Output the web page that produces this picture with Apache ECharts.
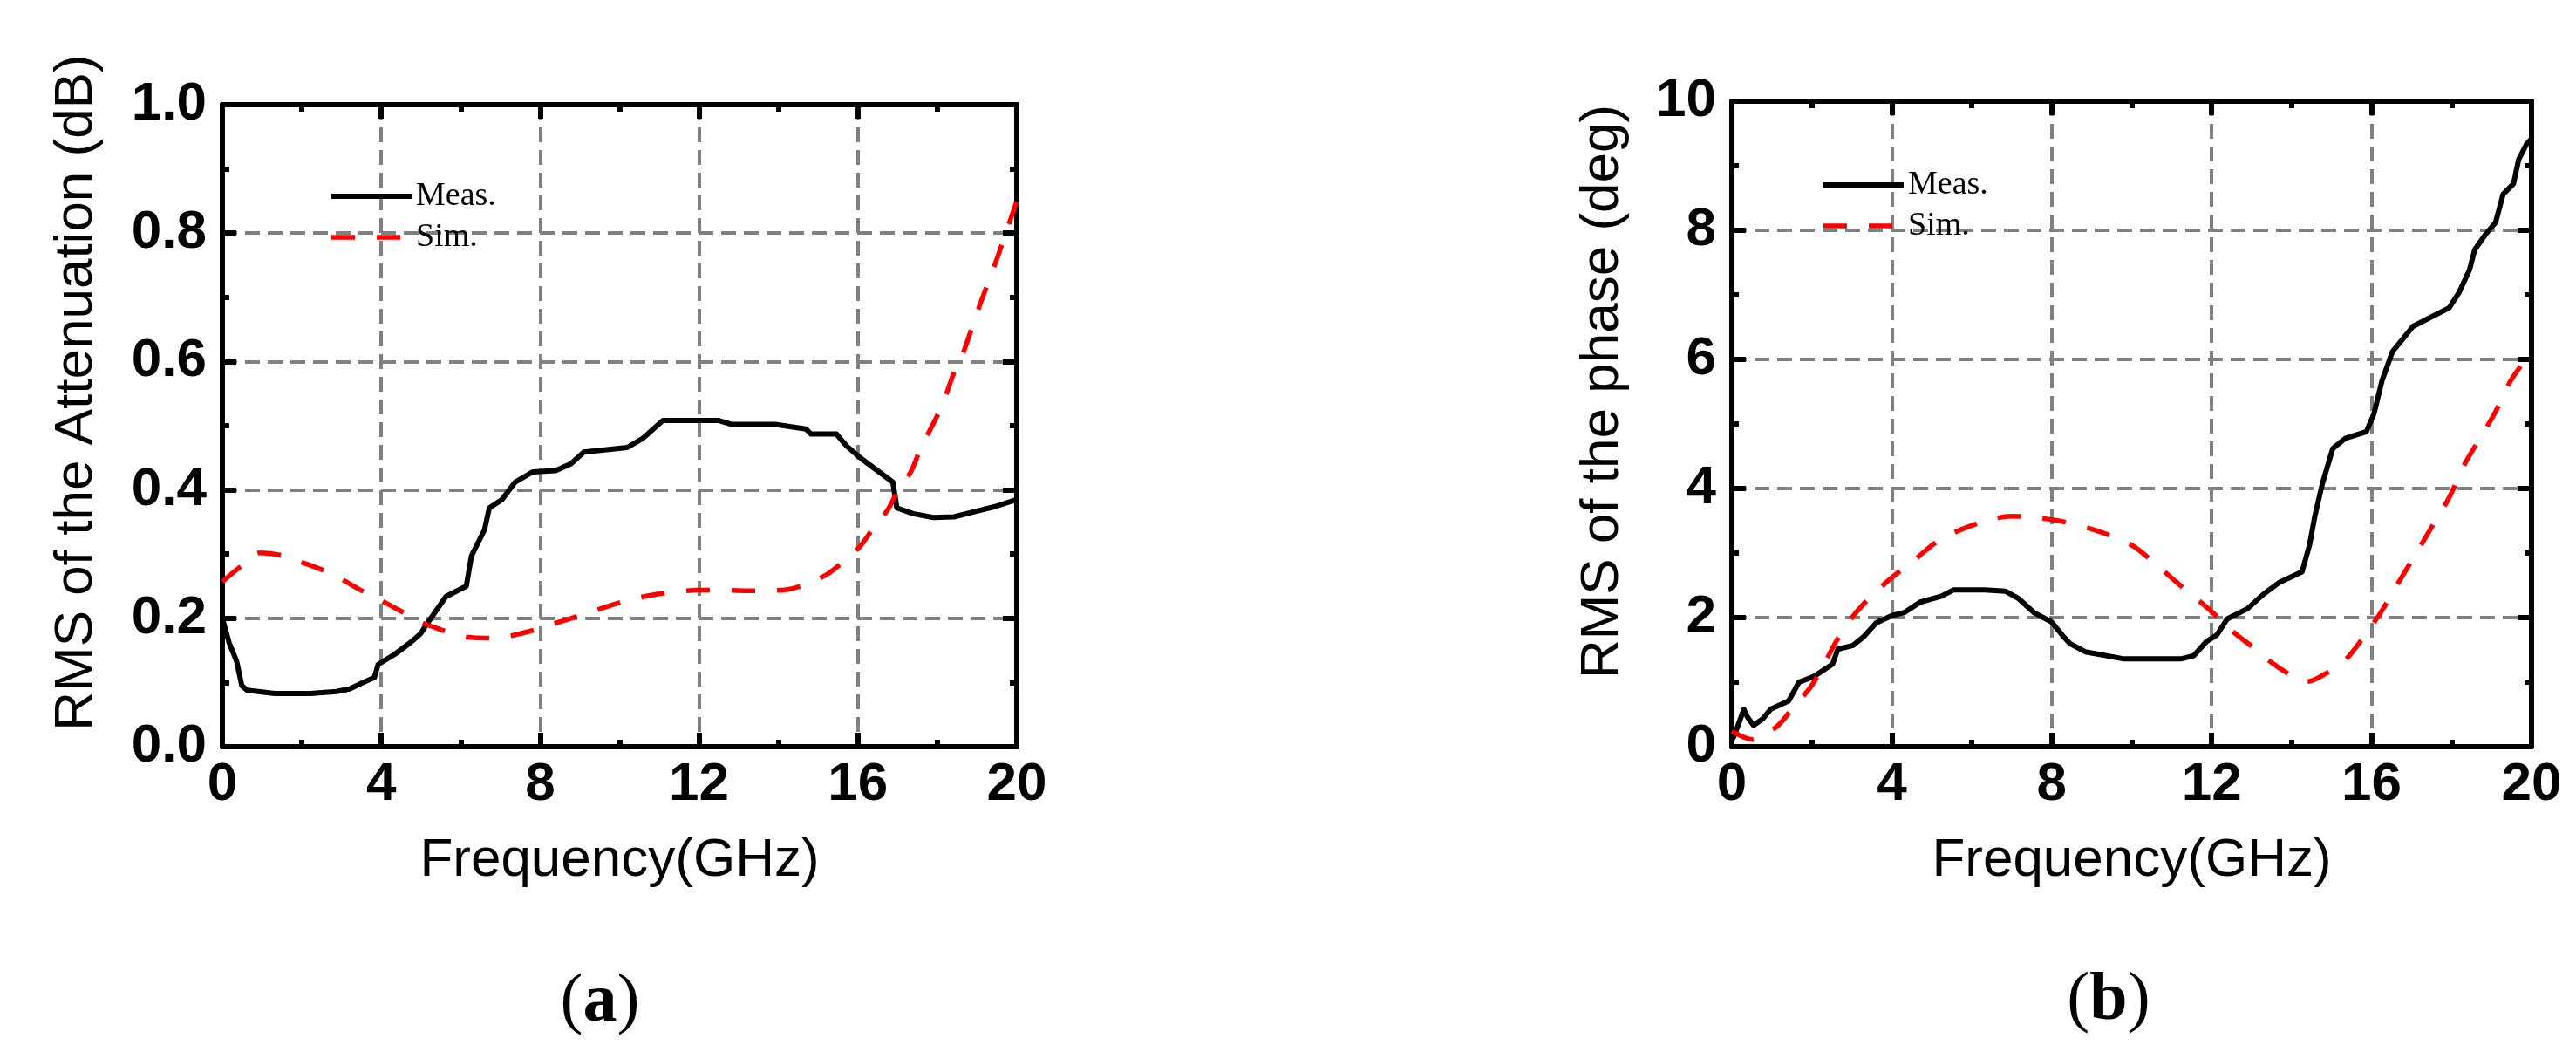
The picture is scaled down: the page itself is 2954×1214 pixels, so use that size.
<!DOCTYPE html>
<html>
<head>
<meta charset="utf-8">
<script src="https://cdn.jsdelivr.net/npm/echarts@6/dist/echarts.min.js"></script>
<style>
  html, body { margin: 0; padding: 0; background: #fff; }
  #chart { width: 2954px; height: 1214px; }
</style>
</head>
<body>
<div id="chart"></div>
<script>
// (a) RMS of the attenuation
const freqMeasA = [0, 0.17, 0.36, 0.49, 0.62, 1.32, 2.22, 2.87, 3.2, 3.51, 3.83, 3.92, 4.34, 4.73, 4.99, 5.18, 5.63, 6.14, 6.27, 6.6, 6.72, 7.04, 7.37, 7.81, 8.39, 8.78, 9.1, 10.19, 10.58, 11.09, 12.5, 12.83, 13.92, 14.69, 14.82, 15.46, 15.72, 16.1, 16.49, 16.88, 16.98, 17.39, 17.9, 18.42, 18.93, 19.45, 20]
const measA = [0.2, 0.162, 0.133, 0.095, 0.088, 0.083, 0.083, 0.086, 0.09, 0.099, 0.108, 0.128, 0.144, 0.162, 0.176, 0.194, 0.234, 0.25, 0.297, 0.338, 0.372, 0.385, 0.412, 0.428, 0.43, 0.441, 0.459, 0.466, 0.48, 0.508, 0.508, 0.502, 0.502, 0.495, 0.487, 0.487, 0.468, 0.448, 0.43, 0.412, 0.372, 0.363, 0.357, 0.358, 0.366, 0.374, 0.385]
const freqSimA = [0, 0.49, 0.94, 1.58, 1.97, 2.61, 3.0, 3.51, 3.96, 4.47, 4.99, 5.57, 6.02, 6.66, 7.11, 7.75, 8.2, 8.78, 9.23, 9.87, 10.32, 10.9, 11.35, 12.0, 12.57, 13.15, 13.6, 14.24, 14.69, 15.21, 15.59, 16.04, 16.36, 16.75, 17.01, 17.33, 17.55, 17.78, 18.03, 18.23, 18.42, 18.6, 19.08, 19.5, 20]
const simA = [0.257, 0.282, 0.302, 0.297, 0.288, 0.273, 0.261, 0.243, 0.229, 0.212, 0.194, 0.181, 0.172, 0.169, 0.171, 0.18, 0.189, 0.2, 0.209, 0.222, 0.23, 0.237, 0.241, 0.244, 0.244, 0.243, 0.243, 0.245, 0.253, 0.268, 0.286, 0.311, 0.338, 0.369, 0.399, 0.428, 0.46, 0.489, 0.52, 0.55, 0.583, 0.605, 0.69, 0.76, 0.85]

// (b) RMS of the phase
const freqMeasB = [0, 0.06, 0.19, 0.3, 0.39, 0.54, 0.77, 0.97, 1.42, 1.68, 2.06, 2.52, 2.65, 3.03, 3.29, 3.61, 4.0, 4.32, 4.71, 5.23, 5.55, 6.32, 6.84, 7.16, 7.55, 8.0, 8.26, 8.45, 8.84, 9.81, 11.23, 11.55, 11.87, 12.13, 12.39, 12.9, 13.29, 13.68, 14.26, 14.45, 14.58, 14.77, 15.03, 15.35, 15.87, 16.06, 16.26, 16.52, 16.77, 17.03, 17.94, 18.19, 18.45, 18.58, 18.84, 19.1, 19.29, 19.55, 19.68, 19.87, 20]
const measB = [0.1, 0.17, 0.39, 0.58, 0.46, 0.33, 0.43, 0.58, 0.71, 1.0, 1.09, 1.28, 1.51, 1.57, 1.7, 1.92, 2.03, 2.08, 2.24, 2.33, 2.43, 2.43, 2.41, 2.3, 2.08, 1.93, 1.73, 1.6, 1.47, 1.36, 1.36, 1.41, 1.63, 1.73, 1.98, 2.14, 2.36, 2.54, 2.71, 3.13, 3.57, 4.08, 4.62, 4.78, 4.88, 5.16, 5.67, 6.12, 6.31, 6.51, 6.8, 7.04, 7.39, 7.7, 7.93, 8.12, 8.56, 8.72, 9.1, 9.33, 9.42]
const freqSimB = [0, 0.52, 0.77, 1.16, 1.55, 1.94, 2.26, 2.58, 3.03, 3.48, 4.0, 4.52, 5.16, 5.68, 6.32, 6.97, 7.61, 8.26, 8.9, 9.55, 10.06, 10.58, 11.1, 11.61, 12.13, 12.52, 13.03, 13.55, 14.06, 14.39, 14.84, 15.35, 15.87, 16.26, 16.65, 17.03, 17.55, 17.94, 18.32, 18.77, 19.1, 19.48, 19.85, 20]
const simB = [0.24, 0.11, 0.17, 0.33, 0.62, 0.9, 1.22, 1.6, 2.02, 2.33, 2.62, 2.87, 3.19, 3.35, 3.49, 3.57, 3.55, 3.49, 3.39, 3.25, 3.1, 2.84, 2.56, 2.3, 2.02, 1.79, 1.54, 1.28, 1.08, 1.01, 1.13, 1.35, 1.76, 2.11, 2.52, 2.91, 3.45, 3.86, 4.37, 4.84, 5.19, 5.67, 5.99, 6.05]

const freqTicks = { min: 0, max: 20, interval: 4 }
const attTicks = { min: 0, max: 1, interval: 0.2 }
const phaseTicks = { min: 0, max: 10, interval: 2 }

const sansFont = '"Liberation Sans", Arial, sans-serif'
const serifFont = '"Liberation Serif", "Times New Roman", serif'

const pairs = (xs, ys) => xs.map((x, i) => [x, ys[i]])

const tickStyle = { color: '#000', width: 6 }

function makeXAxis (gridIndex, mirror) {
  return {
    type: 'value',
    gridIndex: gridIndex,
    position: mirror ? 'top' : 'bottom',
    min: freqTicks.min,
    max: freqTicks.max,
    interval: freqTicks.interval,
    axisLine: { onZero: false, lineStyle: { color: '#000', width: 6 } },
    axisTick: { inside: true, length: 16, lineStyle: tickStyle },
    minorTick: { show: true, splitNumber: 2, length: 8, lineStyle: tickStyle },
    axisLabel: {
      show: !mirror,
      margin: 13,
      fontSize: 62,
      fontWeight: 'bold',
      color: '#000',
      fontFamily: sansFont
    },
    splitLine: {
      show: !mirror,
      lineStyle: { color: '#808080', width: 4, type: [17, 9] }
    },
    name: mirror ? '' : 'Frequency(GHz)',
    nameLocation: 'middle',
    nameGap: 100,
    nameTextStyle: { fontSize: 62, color: '#000', fontFamily: sansFont }
  }
}

function makeYAxis (gridIndex, ticks, mirror, digits) {
  return {
    type: 'value',
    gridIndex: gridIndex,
    position: mirror ? 'right' : 'left',
    min: ticks.min,
    max: ticks.max,
    interval: ticks.interval,
    axisLine: { onZero: false, lineStyle: { color: '#000', width: 6 } },
    axisTick: { inside: true, length: 16, lineStyle: tickStyle },
    minorTick: { show: true, splitNumber: 2, length: 8, lineStyle: tickStyle },
    axisLabel: {
      show: !mirror,
      margin: 18,
      fontSize: 62,
      fontWeight: 'bold',
      color: '#000',
      fontFamily: sansFont,
      formatter: v => v.toFixed(digits)
    },
    splitLine: {
      show: !mirror,
      lineStyle: { color: '#808080', width: 4, type: [17, 9] }
    }
  }
}

function measSeries (name, xIdx, yIdx, data) {
  return {
    name: name,
    type: 'line',
    xAxisIndex: xIdx,
    yAxisIndex: yIdx,
    data: data,
    symbol: 'none',
    itemStyle: { color: '#000' },
    lineStyle: { color: '#000', width: 6, join: 'round' },
    z: 3
  }
}

function simSeries (name, xIdx, yIdx, data) {
  return {
    name: name,
    type: 'line',
    xAxisIndex: xIdx,
    yAxisIndex: yIdx,
    data: data,
    symbol: 'none',
    smooth: 0.3,
    itemStyle: { color: '#ff0000' },
    lineStyle: { color: '#ff0000', width: 5.5, type: [27, 25] },
    z: 4
  }
}

function makeLegend (left, top) {
  return {
    data: [
      { name: 'Meas.', itemStyle: { opacity: 0 }, lineStyle: { width: 6, color: '#000', type: 'solid' } },
      { name: 'Sim.', itemStyle: { opacity: 0 }, lineStyle: { width: 5.5, color: '#ff0000', type: [27, 25] } }
    ],
    orient: 'vertical',
    left: left,
    top: top,
    itemWidth: 92,
    itemHeight: 38,
    itemGap: 9,
    selectedMode: false,
    itemStyle: { opacity: 0 },
    textStyle: { fontFamily: serifFont, fontSize: 38, color: '#000' }
  }
}

const chart = echarts.init(document.getElementById('chart'))
chart.setOption({
  backgroundColor: '#fff',
  animation: false,
  grid: [
    { left: 255, top: 120, width: 911, height: 736 },
    { left: 1986, top: 116, width: 917, height: 740 }
  ],
  xAxis: [
    makeXAxis(0, false),
    makeXAxis(0, true),
    makeXAxis(1, false),
    makeXAxis(1, true)
  ],
  yAxis: [
    makeYAxis(0, attTicks, false, 1),
    makeYAxis(0, attTicks, true, 1),
    makeYAxis(1, phaseTicks, false, 0),
    makeYAxis(1, phaseTicks, true, 0)
  ],
  legend: [
    makeLegend(372, 201),
    makeLegend(2083, 188)
  ],
  graphic: [
    {
      type: 'text', x: 88, y: 450, rotation: Math.PI / 2,
      style: { text: 'RMS of the Attenuation (dB)', fontSize: 62, fontFamily: sansFont, fill: '#000', align: 'center', verticalAlign: 'middle' }
    },
    {
      type: 'text', x: 1838, y: 449, rotation: Math.PI / 2,
      style: { text: 'RMS of the phase (deg)', fontSize: 62, fontFamily: sansFont, fill: '#000', align: 'center', verticalAlign: 'middle' }
    },
    {
      type: 'text', x: 688, y: 1150,
      style: {
        text: '{p|(}{b|a}{p|)}', align: 'center', verticalAlign: 'middle',
        rich: {
          p: { fontSize: 78, fontFamily: serifFont, fill: '#000' },
          b: { fontSize: 78, fontFamily: serifFont, fontWeight: 'bold', fill: '#000' }
        }
      }
    },
    {
      type: 'text', x: 2418, y: 1148,
      style: {
        text: '{p|(}{b|b}{p|)}', align: 'center', verticalAlign: 'middle',
        rich: {
          p: { fontSize: 78, fontFamily: serifFont, fill: '#000' },
          b: { fontSize: 78, fontFamily: serifFont, fontWeight: 'bold', fill: '#000' }
        }
      }
    }
  ],
  series: [
    measSeries('Meas.', 0, 0, pairs(freqMeasA, measA)),
    simSeries('Sim.', 0, 0, pairs(freqSimA, simA)),
    measSeries('Meas.', 2, 2, pairs(freqMeasB, measB)),
    simSeries('Sim.', 2, 2, pairs(freqSimB, simB))
  ]
})
window.addEventListener('resize', () => {
  chart.resize()
})
</script>
</body>
</html>
